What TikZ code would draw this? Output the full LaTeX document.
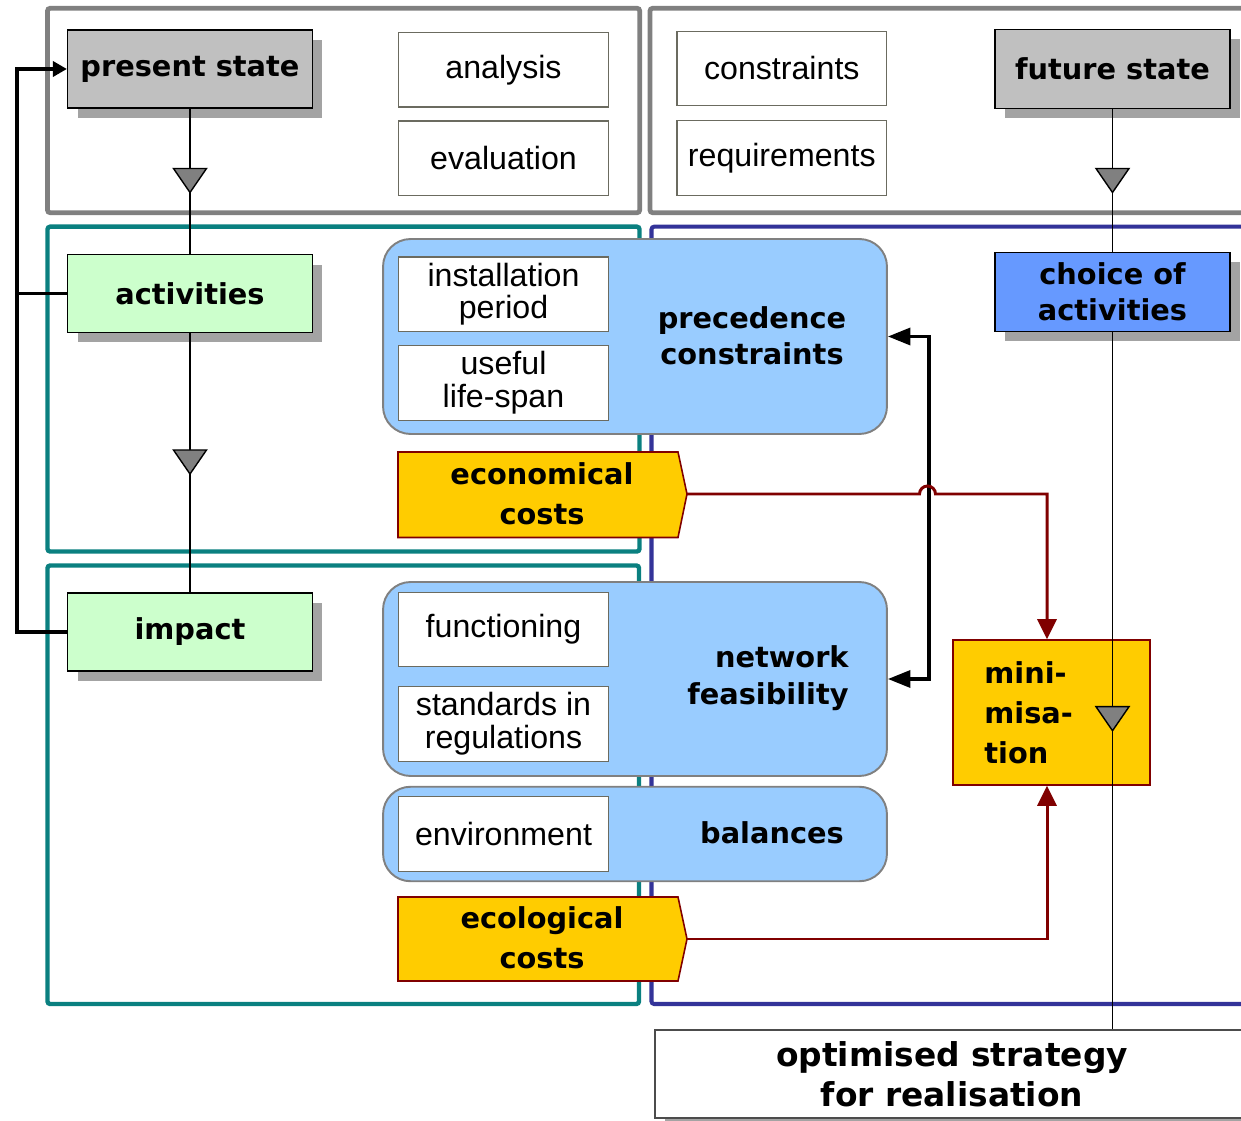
\documentclass[tikz,border=0pt]{standalone}
\usepackage{fontspec}
\setmainfont{Liberation Sans}
\newfontfamily\boldf{DejaVu Sans}
\usetikzlibrary{shadows,arrows.meta,calc}
\definecolor{framegray}{HTML}{808080}
\definecolor{tealc}{HTML}{0A8080}
\definecolor{bluec}{HTML}{333399}
\definecolor{boxgray}{HTML}{C0C0C0}
\definecolor{shadowgray}{HTML}{A3A3A3}
\definecolor{greenc}{HTML}{CCFFCC}
\definecolor{choicec}{HTML}{6699FF}
\definecolor{lightblue}{HTML}{99CCFF}
\definecolor{yellowc}{HTML}{FFCC00}
\definecolor{darkred}{HTML}{800000}
\definecolor{wborder}{HTML}{6B6B60}
\definecolor{trigray}{HTML}{808080}
\tikzset{
  grayframe/.style={draw=framegray, line width=2.7pt, rounded corners=1.5pt},
  tealframe/.style={draw=tealc, line width=2.5pt, rounded corners=1.5pt},
  blueframe/.style={draw=bluec, line width=2.3pt, rounded corners=1.5pt},
  regtxt/.style={font=\fontsize{18.3}{18.7}\selectfont, align=center, inner sep=0pt},
  boldtxt/.style={font=\boldf\bfseries\fontsize{16.4}{22.5}\selectfont, align=center, inner sep=0pt},
  shad/.style={drop shadow={shadow xshift=0.2cm, shadow yshift=-0.2cm, fill=shadowgray, opacity=1}},
  sbox/.style={draw=black, line width=0.7pt, inner sep=0pt, shad, boldtxt},
  wbox/.style={draw=wborder, fill=white, line width=0.8pt, minimum width=4.2cm, minimum height=1.49cm, inner sep=0pt, regtxt},
  rbox/.style={draw=framegray, fill=lightblue, line width=1.1pt, rounded corners=0.55cm, minimum width=10.08cm, inner sep=0pt},
  costshape/.style={draw=darkred, fill=yellowc, line width=0.9pt},
  conn/.style={draw=black, line width=1.1pt},
  fb/.style={draw=black, line width=2pt},
  redln/.style={draw=darkred, line width=1.7pt, -{Triangle[length=0.4cm,width=0.38cm]}},
  downtri/.pic={\draw[fill=trigray, line width=0.8pt, line join=miter] (-16.5,-12) -- (16.5,-12) -- (0,12) -- cycle;}
}
\begin{document}
\begin{tikzpicture}[x=0.02cm, y=-0.02cm]
\useasboundingbox (0,0) rectangle (1241,1121);
\fill[white] (0,0) rectangle (1241,1121);
% frames
\draw[grayframe] (47.5,8.3) rectangle (639.7,212.7);
\draw[grayframe] (650,8.3) rectangle (1265,212.7);
\draw[tealframe] (47.5,226.7) rectangle (639.5,551.5);
\draw[tealframe] (47.5,565.5) rectangle (639,1004);
\draw[blueframe] (651.5,226.7) rectangle (1265,1004);
% coordinates
\coordinate (fbx) at (17,0);
% rounded boxes
\node[rbox, minimum height=3.9cm] (prec) at (635,336.5) {};
\node[rbox, minimum height=3.88cm] (net) at (635,679) {};
\node[rbox, minimum height=1.89cm] (bal) at (635,834) {};
\node[boldtxt] (prect) at (752,336) {precedence\\[-2pt]constraints};
\node[boldtxt, align=right, anchor=east] (nett) at (849,678) {network\\[-1.5pt]feasibility};
\node[boldtxt] (balt) at (772,833) {balances};
% shadowed boxes
\node[sbox, fill=boxgray, minimum width=4.9cm, minimum height=1.56cm] (ps) at (190,69) {present state};
\node[sbox, fill=boxgray, minimum width=4.7cm, minimum height=1.58cm] (fs) at (1112.5,68.8) {future state};
\node[sbox, fill=greenc, minimum width=4.9cm, minimum height=1.56cm] (act) at (190,293.5) {activities};
\node[sbox, fill=choicec, minimum width=4.7cm, minimum height=1.58cm] (choice) at (1112.5,291.8) {choice of\\[-2.5pt]activities};
\node[sbox, fill=greenc, minimum width=4.9cm, minimum height=1.56cm] (imp) at (190,632) {impact};
\node[sbox, fill=white, draw=black!70, minimum width=11.88cm, minimum height=1.76cm, font=\boldf\bfseries\fontsize{18.7}{23}\selectfont] (opt) at (952,1074) {optimised strategy\\[-0.5pt]for realisation};
% white boxes
\node[wbox] (ana) at (503.5,69.8) {analysis};
\node[wbox] (eva) at (503.5,158.3) {evaluation};
\node[wbox] (con) at (781.8,68.5) {constraints};
\node[wbox] (req) at (781.8,158) {requirements};
\node[wbox] (ins) at (503.5,294.2) {installation\\period};
\node[wbox] (use) at (503.5,383) {useful\\life-span};
\node[wbox] (fun) at (503.5,629.5) {functioning};
\node[wbox] (sta) at (503.5,724) {standards in\\regulations};
\node[wbox] (env) at (503.5,834) {environment};
% cost shapes
\draw[costshape] (398,452) -- (678,452) -- (687,494) -- (678,537.5) -- (398,537.5) -- cycle;
\coordinate (ecotip) at (687,494);
\node[boldtxt] (ecot) at (542,494) {economical\\costs};
\draw[costshape] (398,897) -- (678,897) -- (687,939) -- (678,981) -- (398,981) -- cycle;
\coordinate (ecltip) at (687,939);
\node[boldtxt] (eclt) at (542,938) {ecological\\costs};
% minimisation
\node[draw=darkred, fill=yellowc, line width=0.9pt, minimum width=3.94cm, minimum height=2.9cm, inner sep=0pt] (mini) at (1051.5,712.5) {};
\node[boldtxt, align=left, anchor=west, font=\boldf\bfseries\fontsize{16.4}{22.7}\selectfont] (minit) at (984,713) {mini-\\misa-\\tion};
% connectors
\draw[conn] (ps.south) -- (act.north);
\draw[conn] (act.south) -- (imp.north);
\draw[conn] (fs.south) -- (choice.north);
\draw[conn] (choice.south) -- (choice.south |- opt.north);
\pic at (190,180.5) {downtri};
\pic at (190,462) {downtri};
\pic at (1112.5,180.5) {downtri};
\pic at (1112.5,718.7) {downtri};
% feedback
\draw[fb, -{Triangle[length=0.28cm,width=0.3cm]}] (imp.west) -- (imp.west -| fbx) |- (ps.west);
\draw[fb] (act.west) -- (act.west -| fbx);
% double arrow
\draw[fb, {Triangle[length=0.45cm,width=0.34cm]}-{Triangle[length=0.45cm,width=0.34cm]}] (prec.east) -- ++(41,0) |- (net.east);
% red lines
\draw[redln] (ecotip) -- (919.5,494) arc[start angle=180, end angle=0, radius=0.16cm] -- ([xshift=-0.09cm]mini.north |- ecotip) -- ([xshift=-0.09cm]mini.north);
\draw[redln] (ecltip) -| ([xshift=-0.09cm]mini.south);
\end{tikzpicture}
\end{document}
